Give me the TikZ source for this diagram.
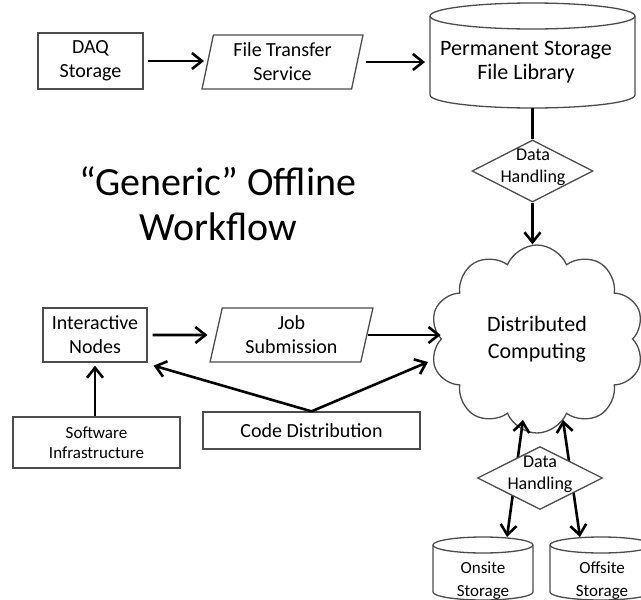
\documentclass[tikz,border=0pt]{standalone}
\usepackage{fontspec}
\setmainfont{Carlito}
\usetikzlibrary{positioning,shapes.geometric,shapes.symbols,arrows.meta}

\tikzset{
  box/.style={draw=black!70, line width=1.3pt, fill=white, align=center, inner sep=0pt, font=\fontsize{20}{24}\selectfont},
  slanted/.style={box, trapezium, trapezium left angle=78, trapezium right angle=102, trapezium stretches=true},
  decision/.style={box, diamond},
  drumbase/.style={inner sep=0pt, outer sep=0pt},
  drum/.style={draw=black!70, line width=1.3pt, fill=white},
  flow/.style={line width=2.6pt, -{Straight Barb[length=10pt,width=16pt]}},
  twoway/.style={line width=2.6pt, {Straight Barb[length=10pt,width=16pt]}-{Straight Barb[length=10pt,width=16pt]}},
  link/.style={line width=2.6pt},
}

% cylinder outline round a node: name, half width, cap height
\newcommand{\storagedrum}[3]{%
  \draw[drum] ([yshift=-#3]#1.north west) -- ([yshift=#3]#1.south west)
    arc[start angle=180, end angle=360, x radius=#2, y radius=#3]
    -- ([yshift=-#3]#1.north east)
    arc[start angle=0, end angle=180, x radius=#2, y radius=#3] -- cycle;
  \draw[drum] ([yshift=-#3]#1.north west)
    arc[start angle=180, end angle=360, x radius=#2, y radius=#3];
}

\begin{document}
\begin{tikzpicture}[x=1pt, y=-1pt]
\useasboundingbox (0,0) rectangle (641,600);

% top row
\node[box, minimum width=105pt, minimum height=56pt] (daq) at (90.5,61) {DAQ\\Storage};
\node[slanted, minimum width=161pt, minimum height=54pt] (fts) at (282.5,62) {File Transfer\\Service};
\node[drumbase, minimum width=205pt, minimum height=105pt] (ps) at (532.5,55.5) {};
\storagedrum{ps}{102.5pt}{13pt}
\node[font=\fontsize{22}{24}\selectfont, align=center] (pstext) at (526,62) {Permanent Storage\\File Library};

% data handling above the cloud
\node[decision, minimum width=121pt, minimum height=62pt] (dh1) at (532.5,171) {};
\node[font=\fontsize{18}{22}\selectfont, align=center] (dh1text) at (533,167) {Data\\Handling};

% title
\node[font=\fontsize{40}{45}\selectfont, align=center] (title) at (218,204) {``Generic'' Offline\\Workflow};

% cloud
\node[cloud, draw=black!70, line width=1.3pt, fill=white, cloud puffs=10, cloud puff arc=135, aspect=1.2,
  minimum width=214pt, minimum height=188pt, inner sep=0pt, align=center,
  font=\fontsize{22}{27}\selectfont] (dc) at (537,339) {Distributed\\Computing};

% lower left
\node[box, minimum width=104pt, minimum height=54pt] (in) at (95,335) {Interactive\\Nodes};
\node[slanted, minimum width=163pt, minimum height=54pt] (js) at (291.5,335) {Job\\Submission};
\node[box, minimum width=217pt, minimum height=37pt] (cd) at (311.5,430.5) {Code Distribution};
\node[box, minimum width=167pt, minimum height=51pt, font=\fontsize{17}{20}\selectfont] (si) at (96.5,442.5) {Software\\Infrastructure};

% storage at the bottom
\node[drumbase, minimum width=100pt, minimum height=63pt] (onsite) at (483,568.5) {};
\storagedrum{onsite}{50pt}{8pt}
\node[font=\fontsize{17}{23}\selectfont, align=center] (onsitetext) at (483,581) {Onsite\\Storage};
\node[drumbase, minimum width=102pt, minimum height=63pt] (offsite) at (601,568.5) {};
\storagedrum{offsite}{51pt}{8pt}
\node[font=\fontsize{17}{23}\selectfont, align=center] (offsitetext) at (602,581) {Offsite\\Storage};

\coordinate (dcl) at (523,420);
\coordinate (dcr) at (563,420);
\coordinate (onl) at (507,537);
\coordinate (offr) at (580,537);
\draw[twoway] (dcl) -- (onl);
\draw[twoway] (dcr) -- (offr);
\node[decision, minimum width=125pt, minimum height=63pt] (dh2) at (540,478) {};
\node[font=\fontsize{18}{22}\selectfont, align=center] (dh2text) at (540,474) {Data\\Handling};

% connectors
\draw[flow, shorten <=4pt, shorten >=3pt] (daq.east) -- (daq.east -| fts.west);
\draw[flow, shorten <=8pt, shorten >=5pt] (fts.east) -- (fts.east -| ps.west);
\draw[link] (ps.south) -- (dh1.north);
\draw[flow] (dh1.south) -- (dh1.south |- dc.north);
\draw[flow, shorten <=5pt, shorten >=8pt] (in.east) -- (js.west);
\draw[flow] (js.east) -- (js.east -| dc.west);
\coordinate (cdtip) at (428,362);
\draw[flow] (cd.north) -- ([xshift=6pt,yshift=-3pt]in.south east);
\draw[flow] (cd.north) -- (cdtip);
\draw[flow, shorten >=3pt] (in.south |- si.north) -- (in.south);
\end{tikzpicture}
\end{document}
